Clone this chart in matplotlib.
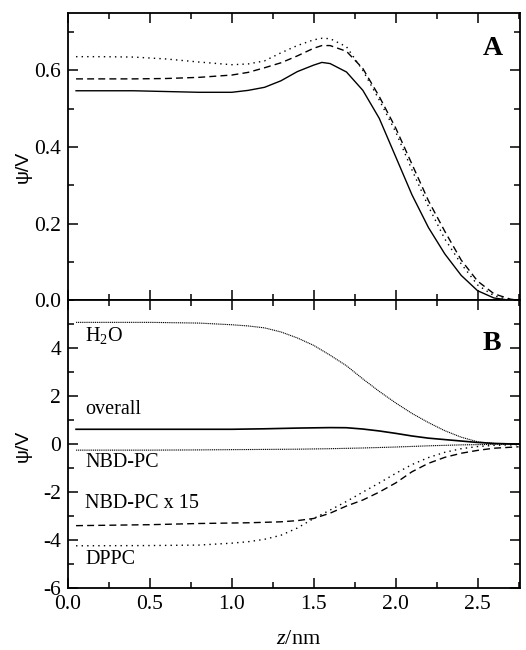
import matplotlib
matplotlib.use("Agg")
import matplotlib.pyplot as plt
from matplotlib.ticker import MultipleLocator

# panel A: three potential profiles
z_a = [0.05, 0.2, 0.4, 0.6, 0.8, 1.0, 1.1, 1.2, 1.3, 1.4, 1.5, 1.55, 1.6, 1.7,
       1.8, 1.9, 2.0, 2.1, 2.2, 2.3, 2.4, 2.5, 2.6, 2.7]
psi_solid = [0.547, 0.547, 0.547, 0.545, 0.543, 0.543, 0.548, 0.556, 0.573, 0.597,
             0.614, 0.621, 0.618, 0.596, 0.548, 0.475, 0.375, 0.275, 0.19, 0.121,
             0.065, 0.025, 0.006, 0.0]
psi_dashed = [0.578, 0.578, 0.578, 0.579, 0.582, 0.588, 0.595, 0.607, 0.620, 0.638,
              0.658, 0.665, 0.665, 0.650, 0.605, 0.532, 0.45, 0.355, 0.26, 0.18,
              0.105, 0.05, 0.017, 0.003]
psi_dotted = [0.636, 0.636, 0.635, 0.630, 0.622, 0.615, 0.617, 0.625, 0.646, 0.665,
              0.680, 0.684, 0.683, 0.662, 0.600, 0.523, 0.44, 0.34, 0.245, 0.16,
              0.095, 0.04, 0.012, 0.0]

# panel B: contributions
z_b = [0.05, 0.5, 0.8, 1.0, 1.1, 1.2, 1.3, 1.4, 1.5, 1.6, 1.7, 1.8, 1.9, 2.0,
       2.1, 2.2, 2.3, 2.4, 2.5, 2.6, 2.75]
psi_h2o = [5.08, 5.08, 5.05, 4.98, 4.93, 4.85, 4.68, 4.43, 4.12, 3.71, 3.27, 2.72,
           2.20, 1.72, 1.28, 0.90, 0.56, 0.29, 0.10, 0.03, 0.0]
psi_overall = [0.62, 0.62, 0.62, 0.62, 0.63, 0.64, 0.655, 0.67, 0.68, 0.69, 0.685,
               0.63, 0.55, 0.45, 0.34, 0.25, 0.19, 0.13, 0.07, 0.03, 0.0]
psi_nbd = [-0.25, -0.25, -0.24, -0.23, -0.225, -0.22, -0.215, -0.21, -0.2, -0.19,
           -0.175, -0.16, -0.14, -0.12, -0.095, -0.07, -0.05, -0.03, -0.02, -0.01, 0.0]
psi_nbd15 = [-3.40, -3.36, -3.31, -3.29, -3.28, -3.26, -3.24, -3.19, -3.10, -2.88,
             -2.58, -2.33, -2.00, -1.62, -1.15, -0.80, -0.55, -0.38, -0.26, -0.17, -0.11]
psi_dppc = [-4.24, -4.23, -4.21, -4.13, -4.07, -3.97, -3.80, -3.50, -3.10, -2.75,
            -2.39, -2.00, -1.62, -1.22, -0.85, -0.56, -0.34, -0.19, -0.10, -0.05, -0.02]

labels_b = ["H$_\\mathregular{2}$O", "overall", "NBD-PC", "NBD-PC x 15", "DPPC"]
label_y = [4.54, 1.46, -0.75, -2.46, -4.83]

plt.rcParams["font.family"] = ["Liberation Serif", "DejaVu Serif"]
plt.rcParams["mathtext.fontset"] = "custom"
plt.rcParams["mathtext.rm"] = "Liberation Serif"
plt.rcParams["mathtext.it"] = "Liberation Serif:italic"

fig = plt.figure(figsize=(5.26, 6.5), dpi=100)
ax_a = fig.add_axes([0.129, 0.538, 0.860, 0.442])
ax_b = fig.add_axes([0.129, 0.0954, 0.860, 0.4426])

lw = 1.0
ax_a.plot(z_a, psi_solid, color="black", lw=lw)
ax_a.plot(z_a + [2.75], psi_dashed + [0.0], color="black", lw=lw, ls=(0, (5, 3)))
ax_a.plot(z_a, psi_dotted, color="black", lw=lw, ls=(0, (1, 3)))

ax_b.plot(z_b, psi_h2o, color="black", lw=0.8, ls=(0, (1, 0.7)))
ax_b.plot(z_b, psi_overall, color="black", lw=1.2)
ax_b.plot(z_b, psi_nbd, color="black", lw=0.8, ls=(0, (1, 0.7)))
ax_b.plot(z_b, psi_nbd15, color="black", lw=lw, ls=(0, (5, 3)))
ax_b.plot(z_b, psi_dppc, color="black", lw=lw, ls=(0, (1, 3)))

for text, y in zip(labels_b, label_y):
    ax_b.text(0.105, y, text, fontsize=14.5, va="center", ha="left")

ax_a.text(0.94, 0.875, "A", transform=ax_a.transAxes, fontsize=20,
          fontweight="bold", ha="center", va="center")
ax_b.text(0.938, 0.851, "B", transform=ax_b.transAxes, fontsize=20,
          fontweight="bold", ha="center", va="center")

ax_a.set_xlim(0, 2.76)
ax_a.set_ylim(0, 0.75)
ax_a.set_yticks([0.0, 0.2, 0.4, 0.6])
ax_a.yaxis.set_minor_locator(MultipleLocator(0.1))

ax_b.set_xlim(0, 2.76)
ax_b.set_ylim(-6, 6)
ax_b.set_yticks([-6, -4, -2, 0, 2, 4])
ax_b.set_yticklabels(["-6", "-4", "-2", "0", "2", "4"])
ax_b.yaxis.set_minor_locator(MultipleLocator(1))

for ax in (ax_a, ax_b):
    ax.xaxis.set_major_locator(MultipleLocator(0.5))
    ax.xaxis.set_minor_locator(MultipleLocator(0.25))
    ax.tick_params(which="both", direction="in", top=True, right=True,
                   width=1.1, labelsize=15.5, pad=5)
    ax.tick_params(which="major", length=7)
    ax.tick_params(which="minor", length=4)
    for s in ax.spines.values():
        s.set_linewidth(1.3)
    ax.set_ylabel("ψ/V", family="Liberation Sans", fontsize=14)

ax_a.tick_params(labelbottom=False)
ax_a.yaxis.set_label_coords(-0.08, 0.463)
ax_b.yaxis.set_label_coords(-0.08, 0.493)

ax_b.set_xlabel("$z$/nm", fontsize=16)
ax_b.xaxis.label.set_va("center")
ax_b.xaxis.set_label_coords(0.511, -0.18)

fig.savefig("out.png", dpi=100)
